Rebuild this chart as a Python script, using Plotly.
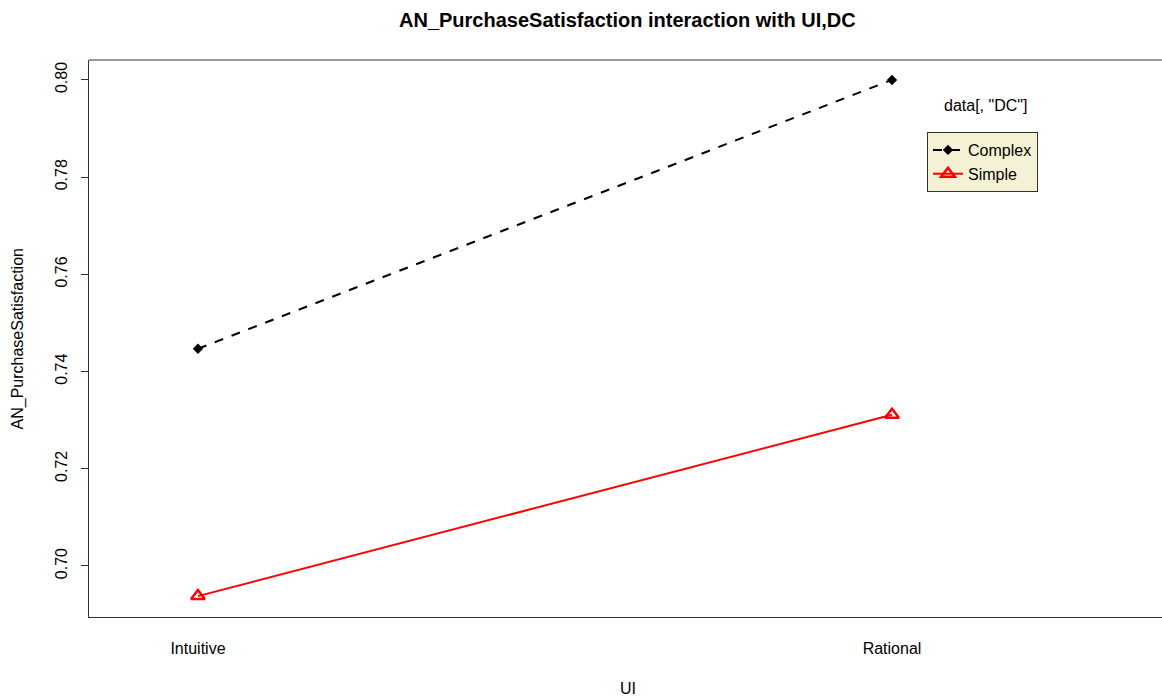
import plotly.graph_objects as go

ui_levels = ["Intuitive", "Rational"]
dc_levels = ["Complex", "Simple"]
complex_vals = [0.7447, 0.8000]
simple_vals = [0.6938, 0.7311]
y_ticks = [0.70, 0.72, 0.74, 0.76, 0.78, 0.80]
y_ticktext = ["0.70", "0.72", "0.74", "0.76", "0.78", "0.80"]

FONT = "Liberation Sans, Arial, sans-serif"

fig = go.Figure()
fig.add_trace(go.Scatter(
    x=ui_levels, y=complex_vals, name=dc_levels[0], mode="lines+markers",
    line=dict(color="black", width=2, dash="dash"),
    marker=dict(symbol="diamond", size=8, color="black"),
))
fig.add_trace(go.Scatter(
    x=ui_levels, y=simple_vals, name=dc_levels[1], mode="lines+markers",
    line=dict(color="#ff0000", width=2),
    marker=dict(symbol="triangle-up-open", size=12, color="#ff0000", line=dict(width=2.5)),
))

fig.update_layout(
    width=1180, height=697,
    margin=dict(l=89, r=0, t=60, b=80),
    paper_bgcolor="white", plot_bgcolor="white",
    font=dict(family=FONT, size=16, color="black"),
    showlegend=True,
    legend=dict(
        x=0.7681, y=0.8707, xanchor="left", yanchor="top",
        bgcolor="#F4F1D4", bordercolor="#333333", borderwidth=1,
        font=dict(size=16, family=FONT), tracegroupgap=0, itemwidth=30,
    ),
    xaxis=dict(
        type="category", range=[-0.157, 1.4150],
        showgrid=False, zeroline=False,
        showline=True, linecolor="#333333", linewidth=1, mirror=False,
        ticks="", ticklabelstandoff=17,
        tickfont=dict(size=16, family=FONT),
    ),
    yaxis=dict(
        range=[0.6895, 0.8041],
        tickvals=y_ticks, ticktext=y_ticktext,
        showgrid=False, zeroline=False,
        showline=True, linecolor="#333333", linewidth=1,
        ticks="outside", ticklen=7, tickcolor="#333333",
        tickangle=-90, ticklabelstandoff=8,
        tickfont=dict(size=16, family=FONT),
    ),
    shapes=[
        dict(type="line", xref="paper", yref="paper", x0=0, x1=1, y0=1, y1=1,
             line=dict(color="#333333", width=1)),
    ],
    annotations=[
        dict(text="<b>AN_PurchaseSatisfaction interaction with UI,DC</b>",
             xref="paper", yref="paper", x=0.4940, y=1.0718,
             xanchor="center", yanchor="middle", showarrow=False,
             font=dict(size=20, family=FONT)),
        dict(text="UI", xref="paper", yref="paper", x=0.4940, y=-0.1275,
             xanchor="center", yanchor="middle", showarrow=False,
             font=dict(size=16, family=FONT)),
        dict(text="AN_PurchaseSatisfaction", xref="paper", yref="paper",
             x=-0.0651, y=0.5, textangle=-90,
             xanchor="center", yanchor="middle", showarrow=False,
             font=dict(size=16, family=FONT)),
        dict(text='data[, "DC"]', xref="paper", yref="paper", x=0.8213, y=0.919,
             xanchor="center", yanchor="middle", showarrow=False,
             font=dict(size=16, family=FONT)),
    ],
)

fig.write_html(
    "out.html",
    config={"displayModeBar": False},
    post_script="document.body.style.margin='0';document.body.style.overflow='hidden';",
)
